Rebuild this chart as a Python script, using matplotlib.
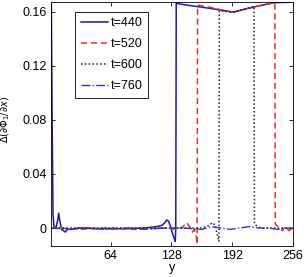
import numpy as np
import matplotlib
matplotlib.use("Agg")
import matplotlib.pyplot as plt

# t=440 (solid blue)
x440 = [1, 2, 3, 4, 6, 8, 9, 10, 12, 14, 16, 18, 22, 30, 50, 80, 100, 112, 118, 121, 123, 125, 127, 129, 131, 132, 132.5,
        133, 140, 155, 170, 185, 193, 205, 220, 237, 250, 256]
y440 = [0.19, 0.09, 0.010, 0.001, 0.000, 0.006, 0.011, 0.006, -0.001, -0.002, -0.003, -0.001, -0.001, 0.000, -0.0005,
        -0.0005, 0.000, 0.001, 0.002, 0.004, 0.006, 0.005, 0.001, -0.004, -0.008, -0.010, 0.000,
        0.1664, 0.1655, 0.1640, 0.1625, 0.1608, 0.1598, 0.1620, 0.1645, 0.1669, 0.1671, 0.1672]

# t=520 (dashed red)
x520 = [1, 10, 30, 60, 90, 120, 135, 140, 144, 147, 150, 152, 154, 155, 155.5, 156, 165, 175, 185, 193, 205,
        220, 232, 237, 237.5, 239, 242, 245, 248, 252, 256]
y520 = [0.000, 0.000, -0.001, 0.000, -0.001, 0.000, -0.001, 0.001, 0.004, 0.001, -0.003, -0.001, -0.005, -0.012, 0.1650,
        0.1650, 0.1640, 0.1625, 0.1608, 0.1598, 0.1620, 0.1645, 0.1662, 0.1668, 0.003, 0.002, 0.000, -0.002,
        0.001, -0.002, 0.000]

# t=600 (dotted black)
x600 = [1, 20, 50, 80, 110, 140, 160, 168, 171, 174, 176, 178, 178.5, 185, 193, 205, 212, 215, 215.5, 217, 222,
        230, 240, 256]
y600 = [0.000, 0.000, 0.000, 0.000, 0.000, 0.000, 0.000, 0.002, 0.004, 0.002, -0.004, -0.010, 0.1608, 0.1606,
        0.1598, 0.1620, 0.1635, 0.1640, 0.003, 0.002, 0.000, 0.000, 0.000, 0.000]

# t=760 (dash-dot blue)
x760 = [1, 20, 40, 60, 80, 100, 120, 140, 160, 170, 180, 190, 200, 210, 220, 230, 240, 250, 256]
y760 = [0.000, -0.001, 0.000, -0.001, 0.000, -0.001, 0.000, 0.000, -0.001, 0.001, 0.000, -0.001, 0.000, 0.001, 0.000,
        0.000, -0.001, 0.000, 0.000]

plt.rcParams["font.family"] = ["Liberation Sans", "DejaVu Sans"]
fig = plt.figure(figsize=(3.06, 2.77), dpi=100)
ax = fig.add_axes([0.167, 0.112, 0.79, 0.881])

ax.plot(x440, y440, color="#1a1aa8", lw=1.1, label="t=440")
ax.plot(x520, y520, color="#e0302a", lw=1.1, ls=(0, (4, 2.5)), label="t=520")
ax.plot(x600, y600, color="#222222", lw=1.1, ls=(0, (1, 1.5)), label="t=600")
ax.plot(x760, y760, color="#3333cc", lw=1.0, ls="-.", label="t=760")

ax.set_xlim(1, 256)
ax.set_ylim(-0.0133, 0.1674)
ax.set_xticks([64, 128, 192, 256])
ax.set_yticks([0, 0.04, 0.08, 0.12, 0.16])
ax.set_yticklabels(["0", "0.04", "0.08", "0.12", "0.16"])
ax.tick_params(direction="in", top=True, right=True, labelsize=9, length=3, width=0.6, pad=3)
for s in ax.spines.values():
    s.set_linewidth(0.6)
ax.set_xlabel("y", fontsize=9, labelpad=0)
ax.set_ylabel(r"$\Delta(\partial\Phi_1/\partial x)$", fontsize=7)
ax.yaxis.set_label_coords(-0.16, 0.52)

leg = ax.legend(loc="upper left", bbox_to_anchor=(0.1, 0.96), borderaxespad=0, fontsize=9, handlelength=2.2,
                handletextpad=0.2, borderpad=0.45, labelspacing=0.72, fancybox=False, edgecolor="black",
                framealpha=1)
leg.get_frame().set_linewidth(0.6)

fig.savefig("out.png", dpi=100)
